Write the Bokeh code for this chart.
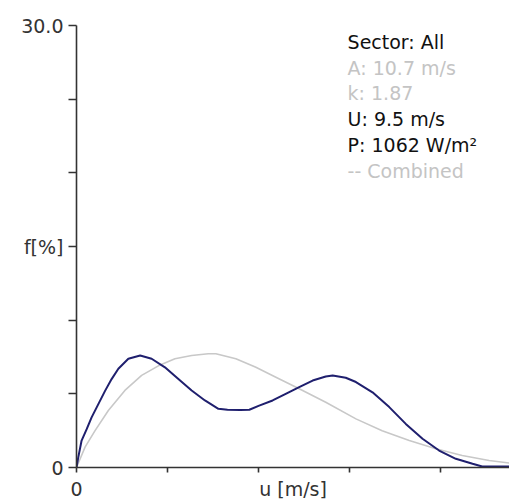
from bokeh.plotting import figure
from bokeh.models import FixedTicker, Range1d, Label
from bokeh.embed import file_html
from bokeh.resources import INLINE

# Measured frequency distribution (all sectors), wind speed in m/s, frequency in %
measured_u = [0, 0.1, 0.28, 0.56, 0.83, 1.2, 1.57, 1.93, 2.3, 2.85, 3.5, 4.13, 4.86, 5.6,
              6.33, 7.06, 7.8, 8.3, 9.0, 9.5, 10.04, 10.78, 11.5, 12.24, 12.98, 13.7,
              14.08, 14.8, 15.36, 16.27, 17.19, 18.1, 19.02, 19.93, 20.85, 21.77, 22.3, 23.8]
measured_f = [0.0, 0.7, 1.83, 2.6, 3.4, 4.3, 5.2, 6.0, 6.7, 7.38, 7.6, 7.38, 6.8, 6.0,
              5.23, 4.55, 3.98, 3.92, 3.9, 3.92, 4.2, 4.55, 5.0, 5.45, 5.9, 6.18,
              6.25, 6.09, 5.8, 5.1, 4.1, 2.96, 1.95, 1.15, 0.59, 0.25, 0.07, 0.07]

# Combined Weibull fit (grey)
weibull_u = [0, 0.47, 1.02, 1.75, 2.66, 3.58, 4.5, 5.41, 6.33, 7.24, 7.66, 8.76, 9.86,
             10.96, 12.24, 13.7, 15.36, 16.8, 18.29, 19.75, 21.2, 22.68, 23.8]
weibull_f = [0.0, 1.38, 2.5, 3.87, 5.23, 6.25, 6.9, 7.38, 7.6, 7.72, 7.72, 7.38, 6.8,
             6.13, 5.34, 4.43, 3.3, 2.5, 1.83, 1.27, 0.81, 0.48, 0.3]

x_ticks = [0, 5, 10, 15, 20]
x_tick_labels = {0: "0", 5: "", 10: "", 15: "", 20: ""}
y_ticks = [0, 5, 10, 15, 20, 25, 30]
y_tick_labels = {0: "0", 5: "", 10: "", 15: "f[%]", 20: "", 25: "", 30: "30.0"}
x_title = "u [m/s]"

info_lines = ["Sector: All", "A: 10.7 m/s", "k: 1.87", "U: 9.5 m/s", "P: 1062 W/m²", "-- Combined"]
info_colors = ["#111111", "#c4c4c4", "#c4c4c4", "#111111", "#111111", "#c4c4c4"]

FONT = "DejaVu Sans"

p = figure(width=509, height=504, output_backend="svg", toolbar_location=None,
           x_range=Range1d(0, 23.8), y_range=Range1d(0, 30),
           min_border_left=76, min_border_right=0, min_border_top=25, min_border_bottom=37)
p.outline_line_color = None
p.xgrid.visible = False
p.ygrid.visible = False
p.background_fill_color = "white"
p.border_fill_color = "white"

p.line(weibull_u, weibull_f, line_color="#c8c8c8", line_width=1.6, line_join="round")
p.line(measured_u, measured_f, line_color="#1f1f6e", line_width=2.0, line_join="round")

for ax in (p.xaxis[0], p.yaxis[0]):
    ax.axis_line_color = "#333333"
    ax.axis_line_width = 1.6
    ax.major_tick_line_color = "#333333"
    ax.major_tick_line_width = 1.6
    ax.minor_tick_line_color = None
    ax.major_tick_in = 0
    ax.major_label_text_font = FONT
    ax.major_label_text_font_size = "19px"
    ax.major_label_text_color = "#333333"

p.xaxis.ticker = FixedTicker(ticks=x_ticks)
p.xaxis.major_label_overrides = x_tick_labels
p.xaxis.major_tick_out = 5
p.xaxis.major_label_standoff = 9
p.xaxis.axis_label = x_title
p.xaxis.axis_label_text_font = FONT
p.xaxis.axis_label_text_font_size = "19px"
p.xaxis.axis_label_text_font_style = "normal"
p.xaxis.axis_label_text_color = "#333333"
p.xaxis.axis_label_standoff = -21

p.yaxis.ticker = FixedTicker(ticks=y_ticks)
p.yaxis.major_label_overrides = y_tick_labels
p.yaxis.major_tick_out = 8
p.yaxis.major_label_standoff = 5

px_per_unit_y = 442 / 30.0
for i, (t, c) in enumerate(zip(info_lines, info_colors)):
    p.add_layout(Label(x=14.9, y=28.9 - i * 25.8 / px_per_unit_y, text=t,
                       text_align="left", text_baseline="middle", text_font=FONT,
                       text_font_size="19px", text_color=c))

open("out.html", "w").write(file_html(p, INLINE))
